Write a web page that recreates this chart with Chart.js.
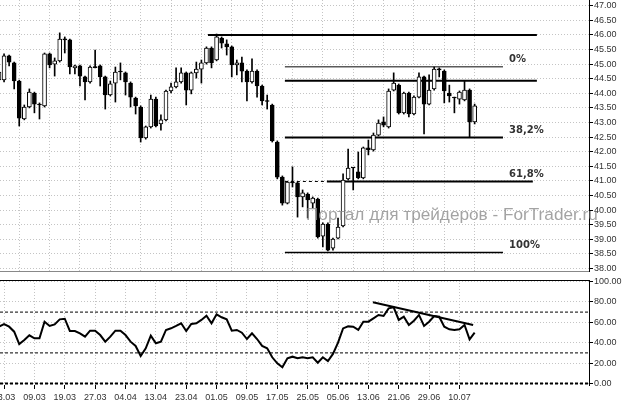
<!DOCTYPE html>
<html lang="ru">
<head>
<meta charset="UTF-8">
<title>Фибоначчи и RSI</title>
<script src="https://cdn.jsdelivr.net/npm/chart.js"></script>
<style>
  body { margin: 0; background: #fff; }
  canvas { display: block; }
</style>
</head>
<body>
<canvas id="priceChart" width="623" height="276"></canvas>
<canvas id="rsiChart" width="623" height="129"></canvas>
<script>
// date labels and the bar each one belongs to
var dateLabels = ['03.03', '09.03', '19.03', '27.03', '04.04', '13.04', '23.04', '01.05',
                  '09.05', '17.05', '25.05', '05.06', '13.06', '21.06', '29.06', '10.07'];
var labelBars = [1, 7, 13, 19, 25, 31, 37, 43, 49, 55, 61, 67, 73, 79, 85, 91];

// daily candles
var openP = [44.46, 44.46, 45.28, 45.04, 44.42, 43.12, 43.53, 44.01, 43.60, 43.57,
             45.35, 45.00, 45.11, 45.83, 45.83, 44.87, 44.94, 44.56, 44.39, 44.88,
             44.94, 44.56, 43.94, 44.35, 44.73, 44.70, 44.35, 43.84, 43.53, 42.47,
             42.85, 43.80, 42.95, 43.09, 44.08, 44.22, 44.39, 44.70, 44.11, 44.70,
             44.83, 45.04, 45.55, 45.14, 45.89, 45.69, 45.59, 44.97, 45.04, 44.76,
             44.39, 44.76, 44.25, 43.72, 43.60, 42.33, 41.13, 40.24, 40.93, 40.93,
             40.45, 40.55, 40.24, 40.38, 39.11, 39.52, 38.70, 39.04, 39.46, 41.07,
             41.44, 41.31, 41.10, 42.13, 42.06, 42.57, 43.02, 42.85, 44.11, 44.28,
             43.33, 44.01, 43.29, 43.87, 44.56, 43.63, 44.15, 44.80, 44.76, 44.01,
             43.84, 43.80, 43.77, 44.11, 43.02];
var highP = [44.80, 45.35, 45.31, 45.07, 44.45, 43.60, 44.15, 44.04, 43.67, 45.38,
             45.38, 45.21, 46.07, 45.93, 45.86, 44.97, 44.97, 44.59, 44.94, 45.48,
             44.97, 44.59, 44.42, 44.90, 45.04, 44.73, 44.39, 43.87, 43.57, 42.88,
             43.94, 43.87, 43.26, 44.11, 44.35, 44.87, 44.87, 44.73, 44.73, 45.07,
             45.14, 45.59, 45.59, 46.03, 45.93, 45.83, 45.62, 45.14, 45.24, 44.80,
             45.18, 44.80, 44.28, 43.94, 43.63, 42.37, 41.17, 40.99, 41.48, 40.96,
             40.69, 40.59, 40.45, 40.41, 39.56, 39.56, 39.04, 39.73, 41.24, 42.09,
             41.46, 41.99, 42.16, 42.40, 42.64, 43.09, 43.19, 44.15, 44.70, 44.32,
             44.04, 44.04, 43.91, 44.70, 44.59, 44.63, 44.90, 44.87, 44.80, 44.28,
             43.87, 44.08, 44.42, 44.15, 43.63];
var lowP = [44.39, 44.39, 44.94, 44.15, 42.88, 43.09, 43.50, 43.33, 43.12, 43.53,
            44.87, 44.59, 45.07, 45.38, 44.66, 44.66, 44.25, 43.77, 44.35, 44.87,
            44.25, 43.46, 43.91, 43.70, 44.46, 43.94, 43.53, 43.29, 42.33, 42.43,
            42.81, 42.85, 42.74, 43.05, 44.01, 44.18, 44.35, 43.60, 43.98, 44.52,
            44.35, 45.00, 44.87, 45.11, 45.55, 45.31, 44.56, 44.63, 44.39, 43.74,
            44.35, 43.87, 43.60, 43.46, 42.33, 41.07, 40.17, 40.21, 40.79, 39.76,
            40.11, 39.73, 40.07, 39.04, 38.74, 38.60, 38.63, 39.01, 39.42, 41.03,
            40.69, 41.07, 41.07, 41.89, 42.02, 42.54, 42.85, 42.81, 44.08, 43.29,
            43.29, 43.19, 43.26, 43.84, 42.61, 43.60, 44.11, 44.56, 43.67, 43.70,
            43.33, 43.63, 43.74, 42.50, 42.95];
var closeP = [44.73, 45.28, 45.07, 44.42, 43.15, 43.53, 44.04, 43.63, 43.60, 45.35,
              44.97, 45.11, 45.86, 45.83, 44.90, 44.94, 44.59, 44.39, 44.90, 44.88,
              44.56, 43.94, 44.32, 44.73, 44.73, 44.39, 43.87, 43.57, 42.47, 42.85,
              43.80, 42.88, 43.09, 44.08, 44.22, 44.39, 44.70, 44.11, 44.70, 44.83,
              45.04, 45.55, 45.04, 45.93, 45.72, 45.59, 44.97, 45.04, 44.76, 44.39,
              44.76, 44.25, 43.74, 43.72, 42.37, 41.13, 40.24, 40.96, 40.93, 40.45,
              40.59, 40.35, 40.41, 39.08, 39.52, 38.63, 39.01, 39.42, 41.03, 41.44,
              41.44, 41.10, 42.13, 42.06, 42.57, 42.98, 42.91, 44.08, 44.35, 43.33,
              44.01, 43.29, 43.87, 44.56, 43.63, 44.11, 44.83, 44.80, 44.08, 43.91,
              43.84, 44.04, 44.11, 43.02, 43.57];

// RSI values, one per candle
var rsi = [55.7, 58.3, 55.7, 50.8, 38.7, 42.6, 47.2, 44.3, 44.3, 60.6,
           56.4, 58.0, 62.9, 63.5, 51.5, 51.5, 49.2, 45.9, 51.8, 51.8,
           47.5, 41.0, 45.9, 51.8, 51.8, 47.5, 41.0, 36.8, 27.0, 34.5,
           46.9, 39.4, 41.0, 52.5, 54.1, 56.4, 59.0, 51.5, 58.3, 59.0,
           62.3, 66.4, 59.0, 67.8, 64.9, 62.9, 51.8, 52.5, 49.8, 43.6,
           49.2, 43.6, 36.8, 34.5, 25.7, 19.8, 15.9, 24.7, 26.3, 24.7,
           25.7, 24.7, 25.7, 20.4, 25.7, 22.0, 29.0, 40.0, 54.0, 56.0,
           55.7, 52.5, 60.6, 60.6, 63.9, 67.2, 66.2, 73.7, 74.7, 62.3,
           65.5, 57.4, 61.6, 67.2, 56.4, 60.6, 66.2, 65.5, 55.7, 53.1,
           52.5, 53.1, 57.4, 43.3, 49.8];

var priceTicks = [38, 38.5, 39, 39.5, 40, 40.5, 41, 41.5, 42, 42.5,
                  43, 43.5, 44, 44.5, 45, 45.5, 46, 46.5, 47];
var rsiTicks = [0, 20, 40, 60, 80, 100];
var rsiLevels = [0, 30, 70];

// horizontal levels drawn on the price panel
var resistLevels = [46.00, 44.43];
var fibLevels = [44.91, 42.49, 40.98, 38.55];
var fibNames = ['0%', '38,2%', '61,8%', '100%'];
var rsiTrend = [79.6, 57.4];
var watermark = 'Портал для трейдеров - ForTrader.ru';

Chart.defaults.font.family = '"Liberation Sans", Arial, sans-serif';
Chart.defaults.animation = false;

var xMin = 0.198, xMax = 116.6;
var gridGray = '#c4c4c4';

function hline(x0, x1, y, color, width, dash) {
    return {
        type: 'line',
        data: [{x: x0, y: y}, {x: x1, y: y}],
        borderColor: color,
        borderWidth: width,
        borderDash: dash || [],
        pointRadius: 0,
        order: 2
    };
}

var bodies = openP.map(function(o, i) { return {x: i, y: [o, closeP[i]]}; });
var wicks = lowP.map(function(l, i) { return {x: i, y: [l, highP[i]]}; });
var bodyColors = openP.map(function(o, i) { return closeP[i] > o ? '#fff' : '#000'; });

var fibText = {
    id: 'fibText',
    afterDatasetsDraw: function(chart) {
        var ctx = chart.ctx, xs = chart.scales.x, ys = chart.scales.y;
        ctx.save();
        ctx.font = 'bold 10px "DejaVu Sans"';
        ctx.fillStyle = '#333';
        ctx.textBaseline = 'middle';
        fibLevels.forEach(function(lv, i) {
            ctx.fillText(fibNames[i], xs.getPixelForValue(100.8), ys.getPixelForValue(lv) - 7);
        });
        ctx.restore();
    }
};

// site watermark, drawn over the candles but under the axis labels
var waterMark = {
    id: 'waterMark',
    afterDatasetsDraw: function(chart) {
        var ctx = chart.ctx;
        ctx.save();
        ctx.font = '17px "Liberation Sans"';
        var w = ctx.measureText(watermark).width;
        ctx.font = (17 * 292 / w).toFixed(2) + 'px "Liberation Sans"';
        ctx.fillStyle = 'rgba(140,140,140,0.8)';
        ctx.textBaseline = 'alphabetic';
        ctx.fillText(watermark, 306, 220);
        ctx.restore();
    }
};

var topBorder = {
    id: 'topBorder',
    afterDraw: function(chart) {
        var a = chart.chartArea, ctx = chart.ctx;
        ctx.save();
        ctx.strokeStyle = '#000';
        ctx.lineWidth = 1;
        ctx.beginPath();
        ctx.moveTo(a.left, a.top + 0.5);
        ctx.lineTo(a.right, a.top + 0.5);
        ctx.stroke();
        ctx.restore();
    }
};

function noPad(s) { s.paddingLeft = 0; s.paddingRight = 0; s.paddingTop = 0; s.paddingBottom = 0; }

new Chart(document.getElementById('priceChart'), {
    type: 'bar',
    data: {
        datasets: [
            {
                data: bodies,
                backgroundColor: bodyColors,
                borderColor: '#000',
                borderWidth: 1,
                borderSkipped: false,
                barThickness: 4,
                minBarLength: 1,
                grouped: false,
                order: 0
            },
            {
                data: wicks,
                backgroundColor: '#000',
                borderWidth: 0,
                barThickness: 1,
                grouped: false,
                order: 1
            },
            hline(41.3, 106.3, resistLevels[0], '#000', 2),
            hline(56.5, 106.3, resistLevels[1], '#000', 2),
            hline(56.5, 99.6, fibLevels[0], '#5a5a5a', 1.5),
            hline(56.5, 99.6, fibLevels[1], '#000', 2),
            hline(56.5, 64.8, fibLevels[2], '#000', 1, [3, 3]),
            hline(64.8, 105.5, fibLevels[2], '#000', 2),
            hline(56.5, 99.6, fibLevels[3], '#000', 1.5)
        ]
    },
    options: {
        responsive: false,
        layout: { padding: 0 },
        plugins: { legend: { display: false }, tooltip: { enabled: false } },
        scales: {
            x: {
                type: 'linear',
                min: xMin,
                max: xMax,
                offset: false,
                afterBuildTicks: function(s) { s.ticks = labelBars.map(function(v) { return {value: v}; }); },
                afterFit: function(s) { s.height = 5; noPad(s); },
                ticks: { display: false },
                grid: { color: gridGray, drawTicks: false },
                border: { display: true, color: '#888', dash: [1, 2] }
            },
            y: {
                type: 'linear',
                position: 'right',
                min: 37.914,
                max: 47.195,
                afterBuildTicks: function(s) { s.ticks = priceTicks.map(function(v) { return {value: v}; }); },
                afterFit: function(s) { s.width = 34; noPad(s); },
                ticks: {
                    autoSkip: false,
                    z: 1,
                    font: { size: 9 },
                    color: '#333',
                    padding: 1,
                    callback: function(v) { return v.toFixed(2); }
                },
                grid: { color: gridGray, tickColor: '#000', tickLength: 4 },
                border: { display: true, color: '#000', dash: [1, 2] }
            }
        }
    },
    plugins: [waterMark, fibText]
});

new Chart(document.getElementById('rsiChart'), {
    type: 'line',
    data: {
        datasets: [
            {
                data: rsi.map(function(v, i) { return {x: i, y: v}; }),
                borderColor: '#000',
                borderWidth: 2,
                pointRadius: 0,
                tension: 0,
                order: 0
            },
            {
                data: [{x: 73.9, y: rsiTrend[0]}, {x: 93.7, y: rsiTrend[1]}],
                borderColor: '#000',
                borderWidth: 2,
                pointRadius: 0,
                order: 0
            },
            hline(xMin, xMax, rsiLevels[0], '#000', 2, [3, 2]),
            hline(xMin, xMax, rsiLevels[1], '#000', 1, [3, 2]),
            hline(xMin, xMax, rsiLevels[2], '#000', 1, [3, 2])
        ]
    },
    options: {
        responsive: false,
        layout: { padding: { top: 4, left: 0, right: 0, bottom: 0 } },
        plugins: { legend: { display: false }, tooltip: { enabled: false } },
        scales: {
            x: {
                type: 'linear',
                min: xMin,
                max: xMax,
                offset: false,
                afterBuildTicks: function(s) { s.ticks = labelBars.map(function(v) { return {value: v}; }); },
                afterFit: function(s) { s.height = 20; noPad(s); },
                ticks: {
                    autoSkip: false,
                    maxRotation: 0,
                    font: { size: 9 },
                    color: '#333',
                    padding: 3,
                    callback: function(v) { return dateLabels[labelBars.indexOf(v)]; }
                },
                grid: { color: gridGray, tickColor: '#000', tickLength: 4 },
                border: { display: false, dash: [1, 2] }
            },
            y: {
                type: 'linear',
                position: 'right',
                min: -1.47,
                max: 101.47,
                afterBuildTicks: function(s) { s.ticks = rsiTicks.map(function(v) { return {value: v}; }); },
                afterFit: function(s) { s.width = 34; noPad(s); },
                ticks: {
                    autoSkip: false,
                    font: { size: 9 },
                    color: '#333',
                    padding: 1,
                    callback: function(v) { return v.toFixed(2); }
                },
                grid: { color: gridGray, tickColor: '#000', tickLength: 4 },
                border: { display: true, color: '#000', dash: [1, 2] }
            }
        }
    },
    plugins: [topBorder]
});
</script>
</body>
</html>
